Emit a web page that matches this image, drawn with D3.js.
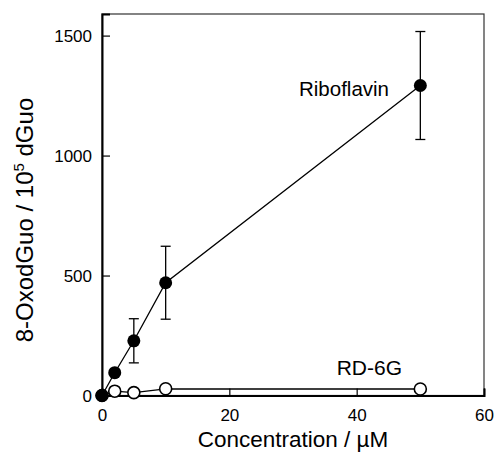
<!DOCTYPE html>
<html>
<head>
<meta charset="utf-8">
<script src="https://d3js.org/d3.v7.min.js"></script>
<style>
  body { margin: 0; background: #fff; }
  text { font-family: "Liberation Sans", Arial, sans-serif; fill: #000; }
</style>
</head>
<body>
<div id="chart-area"></div>
<script>
// data
var conc = [0, 2, 5, 10, 50];
var riboflavin = [0, 95, 228, 470, 1292];
var riboflavinErr = [0, 0, 92, 152, 225];
var rd6g = [0, 18, 12, 28, 27];
var xTicks = [0, 20, 40, 60];
var yTicks = [0, 500, 1000, 1500];

var W = 496, H = 454;
var margin = { left: 102, right: 12, top: 14, bottom: 59 };

var svg = d3.select("#chart-area")
    .append("svg")
        .attr("width", W)
        .attr("height", H);

var x = d3.scaleLinear()
    .domain([0, 60])
    .range([margin.left, W - margin.right]);
var y = d3.scaleLinear()
    .domain([0, 1590])
    .range([H - margin.bottom + 0.5, margin.top]);

// frame (top / right)
svg.append("rect")
    .attr("x", x(0))
    .attr("y", margin.top)
    .attr("width", x(60) - x(0))
    .attr("height", y(0) - margin.top)
    .attr("fill", "none")
    .attr("stroke", "#333")
    .attr("stroke-width", 1.2);

// X Axis
var xAxisCall = d3.axisBottom(x)
    .tickValues(xTicks)
    .tickSize(-7)
    .tickPadding(13)
    .tickFormat(d3.format("d"));
var xAxis = svg.append("g")
    .attr("transform", "translate(0," + y(0) + ")")
    .call(xAxisCall);

// Y Axis
var yAxisCall = d3.axisLeft(y)
    .tickValues(yTicks)
    .tickSize(-8)
    .tickPadding(10)
    .tickFormat(d3.format("d"));
var yAxis = svg.append("g")
    .attr("transform", "translate(" + x(0) + ",0)")
    .call(yAxisCall);

[xAxis, yAxis].forEach(function(a){
    a.select(".domain").attr("stroke", "#000").attr("stroke-width", 2);
    a.selectAll(".tick line").attr("stroke", "#000").attr("stroke-width", 1.2);
    a.selectAll(".tick text")
        .attr("font-size", "17px")
        .attr("font-family", "Liberation Sans, Arial, sans-serif")
        .attr("fill", "#000");
});
yAxis.selectAll(".tick text").attr("dy", "0.36em");

// Labels
svg.append("text")
    .attr("x", (x(0) + x(60)) / 2)
    .attr("y", 447)
    .attr("font-size", "22.5px")
    .attr("text-anchor", "middle")
    .text("Concentration / \u00b5M");

var yLabel = svg.append("text")
    .attr("transform", "translate(33,220) rotate(-90)")
    .attr("font-size", "24px")
    .attr("text-anchor", "middle");
yLabel.append("tspan").text("8-OxodGuo / 10");
yLabel.append("tspan").attr("font-size", "15px").attr("dy", "-9").text("5");
yLabel.append("tspan").attr("dy", "9").text(" dGuo");

var line = d3.line()
    .x(function(d){ return x(d[0]); })
    .y(function(d){ return y(d[1]); });

var ribo = conc.map(function(c, i){ return [c, riboflavin[i], riboflavinErr[i]]; });
var rd = conc.map(function(c, i){ return [c, rd6g[i]]; });

svg.append("path")
    .datum(rd)
    .attr("d", line)
    .attr("fill", "none")
    .attr("stroke", "#000")
    .attr("stroke-width", 1.3);

svg.append("path")
    .datum(ribo)
    .attr("d", line)
    .attr("fill", "none")
    .attr("stroke", "#000")
    .attr("stroke-width", 1.3);

// error bars
var eb = svg.append("g")
    .attr("stroke", "#000")
    .attr("stroke-width", 1.3);
ribo.filter(function(d){ return d[2] > 0; }).forEach(function(d){
    eb.append("line")
        .attr("x1", x(d[0])).attr("x2", x(d[0]))
        .attr("y1", y(d[1] - d[2])).attr("y2", y(d[1] + d[2]));
    [d[1] - d[2], d[1] + d[2]].forEach(function(v){
        eb.append("line")
            .attr("x1", x(d[0]) - 5).attr("x2", x(d[0]) + 5)
            .attr("y1", y(v)).attr("y2", y(v));
    });
});

svg.selectAll("circle.rd")
    .data(rd)
    .enter()
    .append("circle")
        .attr("class", "rd")
        .attr("cx", function(d){ return x(d[0]); })
        .attr("cy", function(d){ return y(d[1]); })
        .attr("r", 6)
        .attr("fill", "#fff")
        .attr("stroke", "#000")
        .attr("stroke-width", 1.6);

svg.selectAll("circle.ribo")
    .data(ribo)
    .enter()
    .append("circle")
        .attr("class", "ribo")
        .attr("cx", function(d){ return x(d[0]); })
        .attr("cy", function(d){ return y(d[1]); })
        .attr("r", 6.5)
        .attr("fill", "#000");

// series labels
svg.append("text")
    .attr("x", 389)
    .attr("y", 96)
    .attr("font-size", "20.5px")
    .attr("text-anchor", "end")
    .text("Riboflavin");
svg.append("text")
    .attr("x", 402)
    .attr("y", 375)
    .attr("font-size", "21px")
    .attr("text-anchor", "end")
    .text("RD-6G");
</script>
</body>
</html>
